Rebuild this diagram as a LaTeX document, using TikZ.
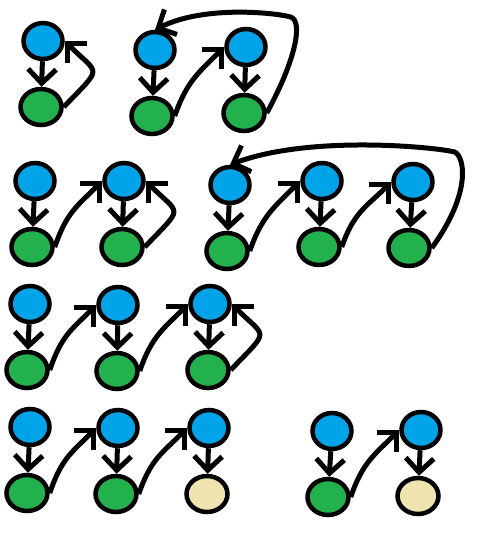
\documentclass[tikz,border=0pt]{standalone}
\usetikzlibrary{shapes.geometric,arrows.meta}

\definecolor{ciel}{HTML}{00A2E8}
\definecolor{herbe}{HTML}{22B14C}
\definecolor{sable}{HTML}{EFE4B0}

\tikzstyle{arrow} = [line width=5pt,->,>={Straight Barb[length=14pt,width=28pt]}]
\tikzstyle{bleu} = [
        ellipse,
        minimum width=39pt,
        minimum height=36pt,
        inner sep=0pt,
        line width=4.5pt,
        draw=black,
        fill=ciel
    ]
\tikzstyle{vert} = [
        ellipse,
        minimum width=41pt,
        minimum height=36pt,
        inner sep=0pt,
        line width=4.5pt,
        draw=black,
        fill=herbe
    ]
\tikzstyle{beige} = [vert, fill=sable]

\begin{document}
\begin{tikzpicture}[x=1pt, y=-1pt, node distance=66pt]
        \useasboundingbox (0,0) rectangle (500,539);
        % rangee 1
        \node [bleu] (bleuA1) at (43,41) {};
        \node [vert, below of=bleuA1, xshift=-2pt] (vertA1) {};
        \draw [arrow] (bleuA1) -- (vertA1);
        \draw [arrow] (vertA1.east) .. controls +(40,-42) and +(35,35) .. (bleuA1.east);

        \node [bleu] (bleuB1) at (155,50) {};
        \node [bleu, right of=bleuB1, xshift=25pt, yshift=3pt] (bleuB2) {};
        \node [vert, below of=bleuB1, xshift=-3pt] (vertB1) {};
        \node [vert, below of=bleuB2, xshift=-2pt] (vertB2) {};
        \draw [arrow] (bleuB1) -- (vertB1);
        \draw [arrow] (bleuB2) -- (vertB2);
        \draw [arrow] (vertB1.east) .. controls +(12,-35) and +(-25,25) .. (bleuB2.west);
        \draw [arrow] (vertB2.east) .. controls +(30,-55) and +(12,4) .. ++(24,-96)
            .. controls +(-14,-4) and +(50,-25) .. (bleuB1.north);

        % rangee 2
        \node [bleu] (bleuC1) at (35,181) {};
        \node [bleu, right of=bleuC1, xshift=23pt] (bleuC2) {};
        \node [vert, below of=bleuC1, xshift=-3pt] (vertC1) {};
        \node [vert, below of=bleuC2, xshift=-2pt] (vertC2) {};
        \draw [arrow] (bleuC1) -- (vertC1);
        \draw [arrow] (bleuC2) -- (vertC2);
        \draw [arrow] (vertC1.east) .. controls +(12,-35) and +(-25,25) .. (bleuC2.west);
        \draw [arrow] (vertC2.east) .. controls +(40,-42) and +(35,35) .. (bleuC2.east);

        \node [bleu] (bleuD1) at (230,185) {};
        \node [bleu, right of=bleuD1, xshift=26pt, yshift=4pt] (bleuD2) {};
        \node [bleu, right of=bleuD2, xshift=25pt, yshift=-1pt] (bleuD3) {};
        \node [vert, below of=bleuD1, xshift=-3pt] (vertD1) {};
        \node [vert, below of=bleuD2, xshift=-3pt] (vertD2) {};
        \node [vert, below of=bleuD3, xshift=-4pt] (vertD3) {};
        \draw [arrow] (bleuD1) -- (vertD1);
        \draw [arrow] (bleuD2) -- (vertD2);
        \draw [arrow] (bleuD3) -- (vertD3);
        \draw [arrow] (vertD1.east) .. controls +(12,-35) and +(-25,25) .. (bleuD2.west);
        \draw [arrow] (vertD2.east) .. controls +(12,-35) and +(-25,25) .. (bleuD3.west);
        \draw [arrow] (vertD3.east) .. controls +(40,-55) and +(10,5) .. ++(23,-96)
            .. controls +(-20,-5) and +(80,-30) .. (bleuD1.north);

        % rangee 3
        \node [bleu] (bleuE1) at (30,304) {};
        \node [bleu, right of=bleuE1, xshift=22pt, yshift=-1pt] (bleuE2) {};
        \node [bleu, right of=bleuE2, xshift=26pt, yshift=1pt] (bleuE3) {};
        \node [vert, below of=bleuE1, xshift=-3pt] (vertE1) {};
        \node [vert, below of=bleuE2, xshift=-1pt] (vertE2) {};
        \node [vert, below of=bleuE3, xshift=-2pt] (vertE3) {};
        \draw [arrow] (bleuE1) -- (vertE1);
        \draw [arrow] (bleuE2) -- (vertE2);
        \draw [arrow] (bleuE3) -- (vertE3);
        \draw [arrow] (vertE1.east) .. controls +(12,-35) and +(-25,25) .. (bleuE2.west);
        \draw [arrow] (vertE2.east) .. controls +(12,-35) and +(-25,25) .. (bleuE3.west);
        \draw [arrow] (vertE3.east) .. controls +(40,-42) and +(35,35) .. (bleuE3.east);

        % rangee 4
        \node [bleu] (bleuF1) at (30,427) {};
        \node [bleu, right of=bleuF1, xshift=22pt, yshift=-1pt] (bleuF2) {};
        \node [bleu, right of=bleuF2, xshift=25pt] (bleuF3) {};
        \node [vert, below of=bleuF1, xshift=-3pt] (vertF1) {};
        \node [vert, below of=bleuF2, xshift=-2pt] (vertF2) {};
        \node [beige, below of=bleuF3, xshift=-2pt] (beigeF3) {};
        \draw [arrow] (bleuF1) -- (vertF1);
        \draw [arrow] (bleuF2) -- (vertF2);
        \draw [arrow] (bleuF3) -- (beigeF3);
        \draw [arrow] (vertF1.east) .. controls +(12,-35) and +(-25,25) .. (bleuF2.west);
        \draw [arrow] (vertF2.east) .. controls +(12,-35) and +(-25,25) .. (bleuF3.west);

        \node [bleu] (bleuG1) at (332,431) {};
        \node [bleu, right of=bleuG1, xshift=23pt, yshift=1pt] (bleuG2) {};
        \node [vert, below of=bleuG1, xshift=-4pt] (vertG1) {};
        \node [beige, below of=bleuG2, xshift=-3pt] (beigeG2) {};
        \draw [arrow] (bleuG1) -- (vertG1);
        \draw [arrow] (bleuG2) -- (beigeG2);
        \draw [arrow] (vertG1.east) .. controls +(12,-35) and +(-25,25) .. (bleuG2.west);
    \end{tikzpicture}
\end{document}
